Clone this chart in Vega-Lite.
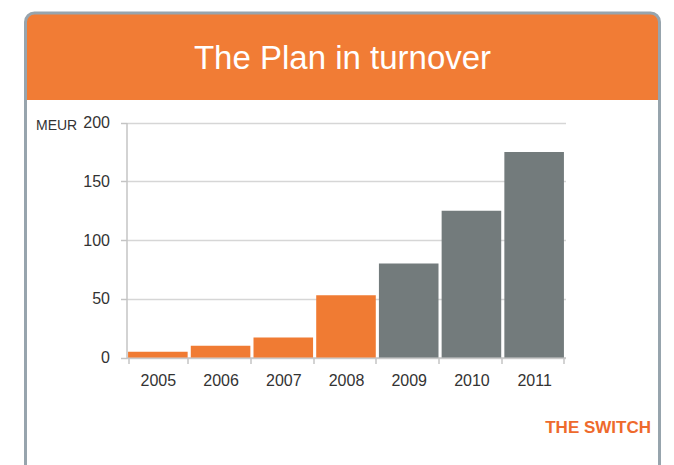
{
  "$schema": "https://vega.github.io/schema/vega-lite/v6.json",
  "background": "white",
  "padding": {"left": 23.5, "top": 11, "right": 13, "bottom": 0},
  "bounds": "flush",
  "spacing": 0,
  "config": {"font": "Liberation Sans", "view": {"stroke": null}},
  "datasets": {
    "turnover": [
      {"year": "2005", "value": 5, "type": "Actual"},
      {"year": "2006", "value": 10, "type": "Actual"},
      {"year": "2007", "value": 17, "type": "Actual"},
      {"year": "2008", "value": 53, "type": "Actual"},
      {"year": "2009", "value": 80, "type": "Plan"},
      {"year": "2010", "value": 125, "type": "Plan"},
      {"year": "2011", "value": 175, "type": "Plan"}
    ],
    "heading": [{"text": "The Plan in turnover"}]
  },
  "vconcat": [
    {
      "width": 634,
      "height": 87,
      "view": {"fill": null, "stroke": null},
      "data": {"name": "heading"},
      "layer": [
        {
          "mark": {"type": "rect", "fill": "#F17C35", "stroke": "#97A4AD", "strokeWidth": 3, "cornerRadiusTopLeft": 9, "cornerRadiusTopRight": 9, "strokeDash": [708, 634, 300, 0]},
          "encoding": {}
        },
        {
          "mark": {"type": "text", "fontSize": 33, "color": "white", "font": "Liberation Sans", "baseline": "middle", "align": "center", "dy": 2},
          "encoding": {"text": {"field": "text"}}
        }
      ]
    },
    {
      "width": 634,
      "height": 380,
      "view": {"fill": null, "stroke": "#97A4AD", "strokeWidth": 3, "strokeDash": [0, 634, 5000, 0]},
      "data": {"name": "turnover"},
      "mark": {"type": "bar"},
      "encoding": {
        "x": {
          "field": "year",
          "type": "ordinal",
          "scale": {"range": [101, 540], "paddingInner": 0.05, "paddingOuter": 0.025},
          "axis": {
            "title": "THE SWITCH",
            "titleColor": "#EE6A2C",
            "titleFontSize": 17,
            "titleFontWeight": "bold",
            "titleAlign": "right",
            "titleX": 625,
            "titleY": 70,
            "titleBaseline": "middle",
            "labelAngle": 0,
            "labelFontSize": 16,
            "labelColor": "#333333",
            "labelPadding": 9,
            "tickBand": "extent",
            "tickSize": 6,
            "tickColor": "#C4C4C4",
            "tickWidth": 1.5,
            "domainColor": "#C4C4C4",
            "domainWidth": 1.5,
            "offset": -122.5,
            "grid": false
          }
        },
        "y": {
          "field": "value",
          "type": "quantitative",
          "scale": {"domain": [0, 200], "range": [257.5, 22.5]},
          "axis": {
            "title": "MEUR",
            "titleAngle": 0,
            "titleAlign": "left",
            "titleBaseline": "middle",
            "titleX": -91,
            "titleY": 25.5,
            "titleFontSize": 14,
            "titleFontWeight": "normal",
            "titleColor": "#333333",
            "values": [0, 50, 100, 150, 200],
            "labelFontSize": 16,
            "labelColor": "#333333",
            "labelPadding": 11,
            "tickSize": 6,
            "tickColor": "#C4C4C4",
            "tickWidth": 1.5,
            "domainColor": "#C4C4C4",
            "domainWidth": 1.5,
            "gridColor": "#D6D6D6",
            "gridWidth": 1.5,
            "offset": -101
          }
        },
        "color": {
          "field": "type",
          "type": "nominal",
          "scale": {"domain": ["Actual", "Plan"], "range": ["#F07B33", "#737B7C"]},
          "legend": null
        }
      }
    }
  ]
}
